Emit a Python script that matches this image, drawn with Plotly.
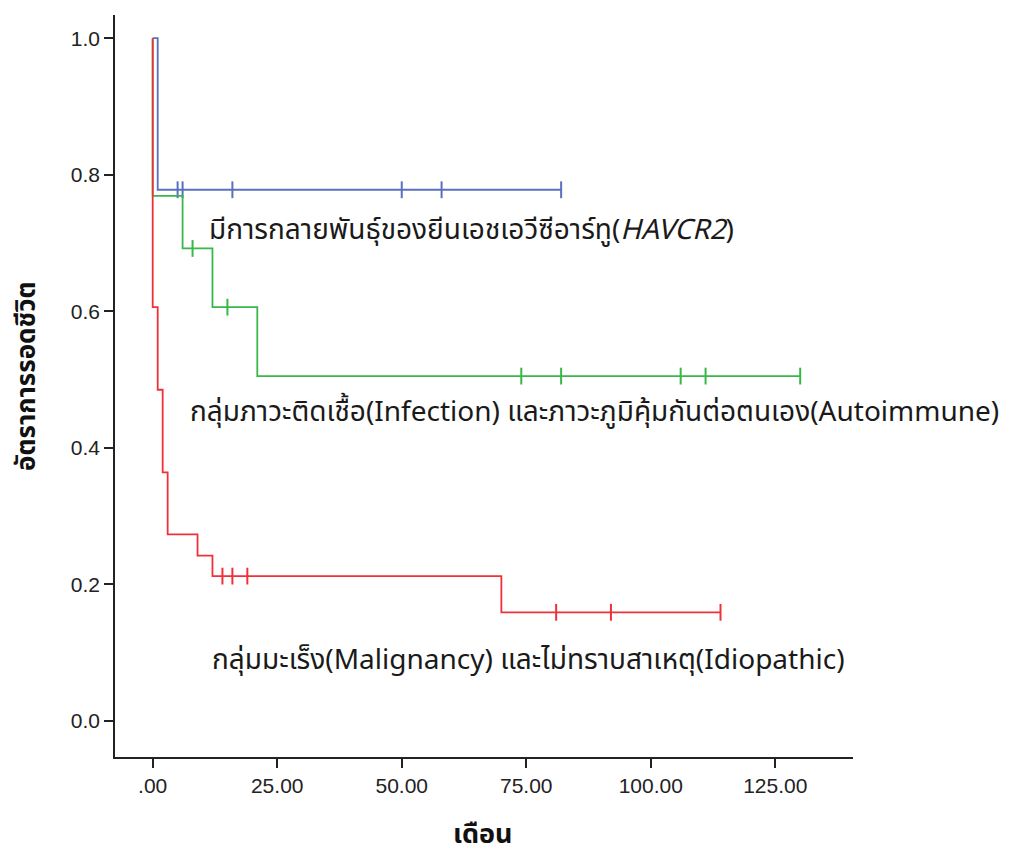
import plotly.graph_objects as go

# --- data ---
blue_t = [0, 1, 82]
blue_s = [1.0, 0.778, 0.778]
blue_cens_t = [5, 6, 16, 50, 58, 82]
blue_cens_s = [0.778, 0.778, 0.778, 0.778, 0.778, 0.778]

green_t = [0, 0, 6, 12, 21, 130]
green_s = [1.0, 0.769, 0.692, 0.606, 0.505, 0.505]
green_cens_t = [8, 15, 74, 82, 106, 111, 130]
green_cens_s = [0.692, 0.606, 0.505, 0.505, 0.505, 0.505, 0.505]

red_t = [0, 0, 1, 2, 3, 9, 12, 70, 114]
red_s = [1.0, 0.606, 0.485, 0.364, 0.273, 0.242, 0.212, 0.159, 0.159]
red_cens_t = [14, 16, 19, 81, 92, 114]
red_cens_s = [0.212, 0.212, 0.212, 0.159, 0.159, 0.159]

x_ticks = [0, 25, 50, 75, 100, 125]
x_tick_labels = [".00", "25.00", "50.00", "75.00", "100.00", "125.00"]
y_ticks = [0.0, 0.2, 0.4, 0.6, 0.8, 1.0]
y_tick_labels = ["0.0", "0.2", "0.4", "0.6", "0.8", "1.0"]

label_blue = "มีการกลายพันธุ์ของยีนเอชเอวีซีอาร์ทู(<i>HAVCR2</i>)"
label_green = "กลุ่มภาวะติดเชื้อ(Infection) และภาวะภูมิคุ้มกันต่อตนเอง(Autoimmune)"
label_red = "กลุ่มมะเร็ง(Malignancy) และไม่ทราบสาเหตุ(Idiopathic)"
x_title = "เดือน"
y_title = "อัตราการรอดชีวิต"

BLUE = "#5A70BE"
GREEN = "#38B848"
RED = "#F03038"

fig = go.Figure()

for t, s, ct, cs, col in [
    (blue_t, blue_s, blue_cens_t, blue_cens_s, BLUE),
    (green_t, green_s, green_cens_t, green_cens_s, GREEN),
    (red_t, red_s, red_cens_t, red_cens_s, RED),
]:
    fig.add_trace(go.Scatter(x=t, y=s, mode="lines", line=dict(color=col, width=1.8, shape="hv"),
                             hoverinfo="skip", showlegend=False))
    fig.add_trace(go.Scatter(x=ct, y=cs, mode="markers",
                             marker=dict(symbol="line-ns", size=12, line=dict(color=col, width=2)),
                             showlegend=False))

THAI = "Noto Sans Thai, Noto Sans, Tahoma, sans-serif"
LBL = dict(size=28, color="#1a1a1a", family=THAI)
fig.add_annotation(x=10.9, y=0.719, text=label_blue, showarrow=False, xanchor="left", yanchor="middle", font=LBL)
fig.add_annotation(x=7.1, y=0.452, text=label_green, showarrow=False, xanchor="left", yanchor="middle", font=LBL)
fig.add_annotation(x=11.5, y=0.089, text=label_red, showarrow=False, xanchor="left", yanchor="middle", font=LBL)

# axis titles
fig.add_annotation(xref="paper", yref="paper", x=0.4986, y=-0.1038, text="<b>" + x_title + "</b>",
                   showarrow=False, xanchor="center", yanchor="middle",
                   font=dict(size=27, family=THAI, color="#111"))
fig.add_annotation(xref="paper", yref="paper", x=-0.1192, y=0.5135, text="<b>" + y_title + "</b>",
                   showarrow=False, xanchor="center", yanchor="middle", textangle=-90,
                   font=dict(size=26, family=THAI, color="#111"))

TICKFONT = dict(family="Liberation Sans, Arial, sans-serif", size=21, color="#222222")
common = dict(ticks="outside", ticklen=9, tickwidth=1.5, tickcolor="#222", showline=True, linecolor="#222",
              linewidth=1.5, showgrid=False, zeroline=False, tickfont=TICKFONT, automargin=False)
fig.update_xaxes(range=[-7.57, 140.6], tickvals=x_ticks, ticktext=x_tick_labels, **common)
fig.update_yaxes(range=[-0.053, 1.034], tickvals=y_ticks, ticktext=y_tick_labels, **common)

# the page body adds ~8px margin, so the figure is offset by that amount
fig.update_layout(width=1007, height=847, margin=dict(l=107, r=162, t=7, b=98),
                  plot_bgcolor="white", paper_bgcolor="white", showlegend=False)

fig.write_html("out.html")
